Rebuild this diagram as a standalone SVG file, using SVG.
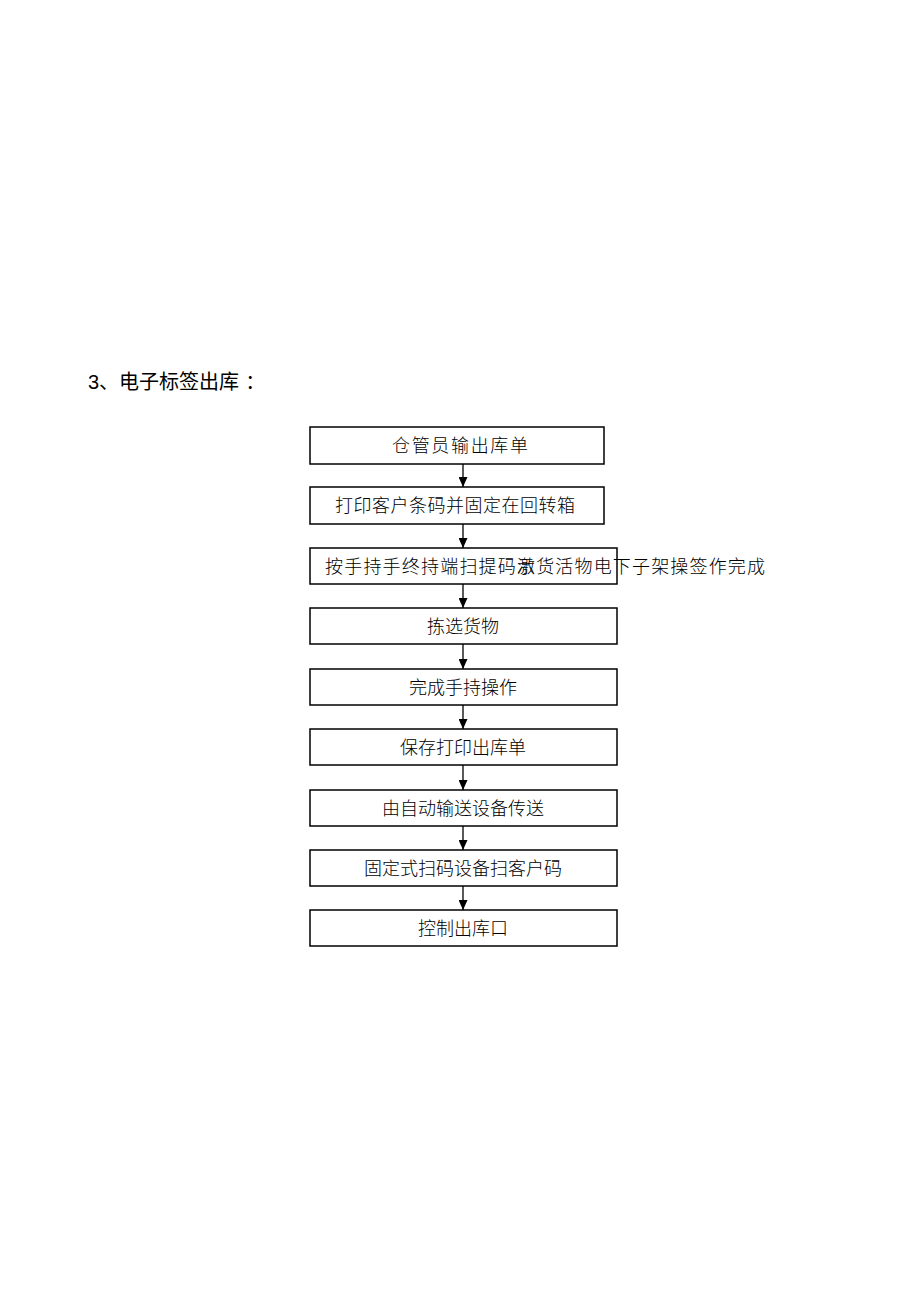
<svg xmlns="http://www.w3.org/2000/svg" width="920" height="1302" viewBox="0 0 920 1302">
<defs>
<style>
.box{fill:#fff;stroke:#000;stroke-width:1.5}
.t{font-family:"Liberation Sans","Noto Sans CJK SC",sans-serif;font-size:18px;font-weight:300;fill:#000;text-anchor:middle}
.ts{font-family:"Liberation Sans","Noto Sans CJK SC",sans-serif;font-size:18px;font-weight:300;fill:#000}
.title{font-family:"Liberation Sans","Noto Sans CJK SC",sans-serif;font-size:20px;fill:#000}
.c{stroke:#000;stroke-width:1.3;fill:none}
</style>
<marker id="ah" markerWidth="10" markerHeight="9" refX="10" refY="4.5" orient="auto" markerUnits="userSpaceOnUse" viewBox="0 0 10 9">
<path d="M0,0 L10,4.5 L0,9 Z" fill="#000"/>
</marker>
</defs>
<rect width="920" height="1302" fill="#fff"/>
<text class="title" x="88" y="389">3、电子标签出库<tspan dx="6">：</tspan></text>
<g id="connectors">
<line class="c" x1="463" y1="464" x2="463" y2="487" marker-end="url(#ah)"/>
<line class="c" x1="463" y1="524" x2="463" y2="548" marker-end="url(#ah)"/>
<line class="c" x1="463" y1="584" x2="463" y2="608" marker-end="url(#ah)"/>
<line class="c" x1="463" y1="644" x2="463" y2="669" marker-end="url(#ah)"/>
<line class="c" x1="463" y1="705" x2="463" y2="729" marker-end="url(#ah)"/>
<line class="c" x1="463" y1="765" x2="463" y2="790" marker-end="url(#ah)"/>
<line class="c" x1="463" y1="826" x2="463" y2="850" marker-end="url(#ah)"/>
<line class="c" x1="463" y1="886" x2="463" y2="910" marker-end="url(#ah)"/>
</g>
<g id="n1"><rect class="box" x="310" y="427" width="294" height="37"/><text class="t" x="460" y="452" textLength="136" lengthAdjust="spacing">仓管员输出库单</text></g>
<g id="n2"><rect class="box" x="310" y="487" width="294" height="37"/><text class="t" x="455" y="512" textLength="240" lengthAdjust="spacing">打印客户条码并固定在回转箱</text></g>
<g id="n3"><rect class="box" x="310" y="548" width="307" height="36"/><text class="ts" x="325" y="573" textLength="210" lengthAdjust="spacing">按手持手终持端扫提码示</text><text class="ts" x="517" y="573" textLength="248" lengthAdjust="spacing">激货活物电下子架操签作完成</text></g>
<g id="n4"><rect class="box" x="310" y="608" width="307" height="36"/><text class="t" x="463" y="633">拣选货物</text></g>
<g id="n5"><rect class="box" x="310" y="669" width="307" height="36"/><text class="t" x="463" y="694">完成手持操作</text></g>
<g id="n6"><rect class="box" x="310" y="729" width="307" height="36"/><text class="t" x="463" y="754">保存打印出库单</text></g>
<g id="n7"><rect class="box" x="310" y="790" width="307" height="36"/><text class="t" x="463" y="815">由自动输送设备传送</text></g>
<g id="n8"><rect class="box" x="310" y="850" width="307" height="36"/><text class="t" x="463" y="875">固定式扫码设备扫客户码</text></g>
<g id="n9"><rect class="box" x="310" y="910" width="307" height="36"/><text class="t" x="463" y="935">控制出库口</text></g>
</svg>
